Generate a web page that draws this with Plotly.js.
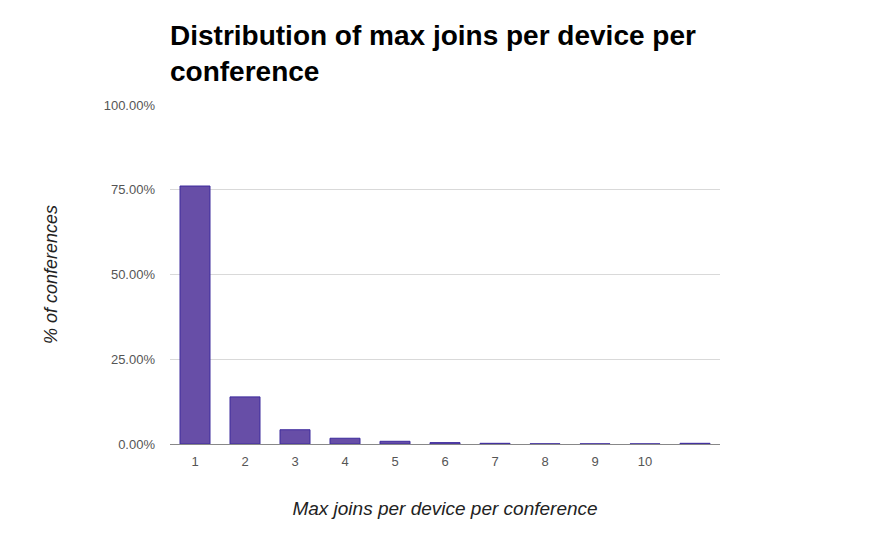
<!DOCTYPE html>
<html>
<head>
<meta charset="utf-8">
<script src="https://cdn.plot.ly/plotly-3.0.1.min.js"></script>
<style>html,body{margin:0;padding:0;background:#fff;}#chart{width:890px;height:550px;}</style>
</head>
<body>
<div id="chart"></div>
<script>
var categories = [1, 2, 3, 4, 5, 6, 7, 8, 9, 10, 11];
var tickLabels = ["1", "2", "3", "4", "5", "6", "7", "8", "9", "10", ""];
var percentConferences = [0.761, 0.139, 0.042, 0.017, 0.008, 0.004, 0.002, 0.0005, 0.0004, 0.0003, 0.002];

var trace = {
  type: "bar",
  x: categories,
  y: percentConferences,
  marker: {color: "#674ea7", line: {color: "#3c2a9c", width: 1}},
  hoverinfo: "x+y"
};

var layout = {
  width: 890, height: 550,
  margin: {l: 170, r: 170, t: 105, b: 106},
  paper_bgcolor: "#fff", plot_bgcolor: "#fff",
  showlegend: false,
  bargap: 0.4,
  font: {family: "Arial, Liberation Sans, sans-serif"},
  title: {
    text: "<b>Distribution of max joins per device per<br>conference</b>",
    font: {size: 28, color: "#000", family: "Arial, Liberation Sans, sans-serif"},
    x: 0, xref: "paper", xanchor: "left",
    y: 1 - 45/550, yref: "container", yanchor: "top"
  },
  xaxis: {
    range: [0.5, 11.5],
    tickmode: "array",
    tickvals: categories,
    ticktext: tickLabels,
    showgrid: false, zeroline: false,
    showline: false, ticks: "",
    ticklabelstandoff: 8,
    tickfont: {size: 13, color: "#555"},
    title: {text: "<i>Max joins per device per conference</i>", font: {size: 19, color: "#222"}, standoff: 33}
  },
  yaxis: {
    range: [0, 1],
    tickvals: [0, 0.25, 0.5, 0.75, 1],
    tickformat: ".2%",
    showgrid: true, gridcolor: "#d9d9d9", gridwidth: 1,
    zeroline: true, zerolinecolor: "#888", zerolinewidth: 1,
    showline: false, ticks: "",
    ticklabelstandoff: 14,
    tickfont: {size: 13, color: "#555"},
    title: {text: "<i>% of conferences</i>", font: {size: 18, color: "#222"}, standoff: 41}
  }
};

Plotly.newPlot("chart", [trace], layout, {displayModeBar: false, staticPlot: true});
</script>
</body>
</html>
